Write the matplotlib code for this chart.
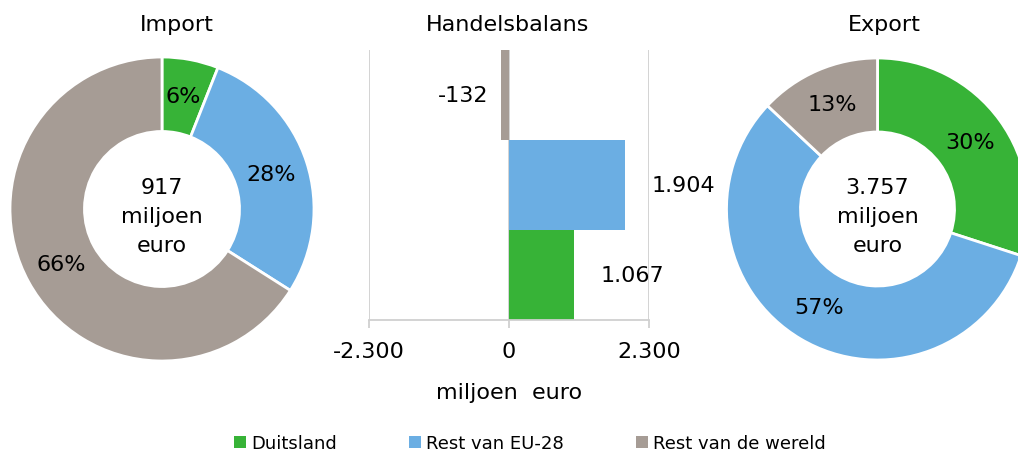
import matplotlib.pyplot as plt
from matplotlib.patches import Patch

# Gegevens
regio = ['Duitsland', 'Rest van EU-28', 'Rest van de wereld']
kleuren = ['#37B337', '#6BAEE3', '#A69C95']

import_pct = [6, 28, 66]
export_pct = [30, 57, 13]
import_totaal = '917'
export_totaal = '3.757'

balans = [1067, 1904, -132]   # Duitsland, Rest EU-28, Rest wereld
balans_ticks = [-2300, 0, 2300]

W, H = 1018, 452
fig = plt.figure(figsize=(W / 100, H / 100), dpi=100)
plt.rcParams['font.family'] = ['DejaVu Sans']
FS = 16


def fmt(v):
    return f'{v:,}'.replace(',', '.')


def donut(cx, cy, r, pct, totaal):
    ax = fig.add_axes([(cx - r) / W, (H - cy - r) / H, 2 * r / W, 2 * r / H])
    ax.pie(pct, colors=kleuren, startangle=90, counterclock=False, radius=1,
           wedgeprops=dict(width=0.49, edgecolor='white', linewidth=2),
           autopct=lambda p: f'{p:.0f}%', pctdistance=0.755,
           textprops=dict(fontsize=FS, color='black'))
    ax.set_xlim(-1, 1)
    ax.set_ylim(-1, 1)
    ax.set_aspect('equal')
    ax.text(0, -0.045, f'{totaal}\nmiljoen\neuro', ha='center', va='center',
            fontsize=FS, linespacing=1.55)
    return ax


donut(162, 210, 152, import_pct, import_totaal)
donut(877.5, 210, 151, export_pct, export_totaal)

# Handelsbalans
x0, x1, ytop, ybot = 369, 649, 51, 321
axb = fig.add_axes([x0 / W, (H - ybot) / H, (x1 - x0) / W, (ybot - ytop) / H])
pos = list(range(len(balans)))
for a in balans_ticks:
    axb.axvline(a, color='#D0D0D0', linewidth=1.3, zorder=0)
axb.barh(pos, balans, height=1.0, color=kleuren, zorder=2)
for p, v in zip(pos, balans):
    off = 19 if v > 0 else -9
    axb.annotate(fmt(v), (v, p), xytext=(off, 0), textcoords='offset points',
                 ha='left' if v > 0 else 'right', va='center', fontsize=FS)
axb.set_xlim(-2300, 2300)
axb.set_ylim(-0.5, len(balans) - 0.5)
axb.set_xticks(balans_ticks)
axb.set_xticklabels([fmt(t) for t in balans_ticks], fontsize=FS)
axb.set_yticks([])
for s in ['top', 'left', 'right']:
    axb.spines[s].set_visible(False)
axb.spines['bottom'].set_color('#D0D0D0')
axb.spines['bottom'].set_linewidth(1.3)
axb.tick_params(axis='x', length=6, color='#D0D0D0', width=1.3, pad=9)
axb.set_xlabel('miljoen  euro', fontsize=FS, labelpad=15)

# Titels
fig.text(177 / W, 1 - 25 / H, 'Import', ha='center', va='center', fontsize=FS)
fig.text(508 / W, 1 - 25 / H, 'Handelsbalans', ha='center', va='center', fontsize=FS)
fig.text(884 / W, 1 - 25 / H, 'Export', ha='center', va='center', fontsize=FS)

# Legenda
handles = [Patch(facecolor=k, edgecolor='none', label=r) for k, r in zip(kleuren, regio)]
fig.legend(handles=handles, loc='center', bbox_to_anchor=(530 / W, 1 - 444 / H),
           ncol=3, frameon=False, fontsize=13, handlelength=0.65, handleheight=0.65,
           handletextpad=0.3, columnspacing=4.0)

fig.savefig('out.png', dpi=100)
